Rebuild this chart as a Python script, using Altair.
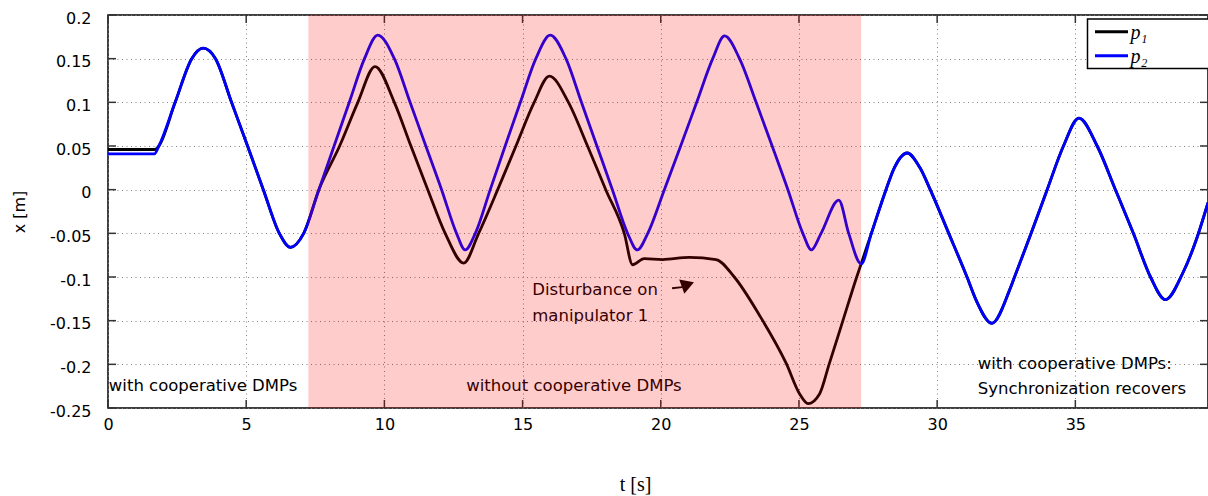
import altair as alt
import pandas as pd

# ---- trajectories of the two manipulators (x position in m over time in s) ----
# initial hold before motion starts
p1_start_t = [0.0, 1.70]
p1_start_v = [0.046, 0.046]
p2_start_t = [0.0, 1.68]
p2_start_v = [0.041, 0.041]

# first phase: coupled through cooperative DMPs (both identical)
sync1_t = [1.84, 2.43, 3.03, 3.44, 3.89, 4.47, 5.05, 5.62, 6.20, 6.60, 7.08, 7.63]
sync1_v = [0.050, 0.100, 0.150, 0.162, 0.150, 0.100, 0.050, 0.000, -0.050, -0.066, -0.050, 0.000]

# uncoupled phase
p1_free_t = [8.38, 9.04, 9.66, 10.36, 10.96, 11.57, 12.20, 12.87, 13.41, 14.10, 14.76, 15.42,
             15.97, 16.66, 17.35, 18.01, 18.68, 18.98, 19.40, 20.06, 21.03, 22.00, 22.66,
             23.57, 24.54, 25.02, 25.33, 25.75, 26.09, 26.59, 27.09]
p1_free_v = [0.050, 0.100, 0.141, 0.100, 0.050, 0.000, -0.050, -0.084, -0.050, 0.000, 0.050, 0.100,
             0.130, 0.100, 0.050, 0.000, -0.050, -0.086, -0.079, -0.080, -0.0775, -0.080, -0.100,
             -0.1437, -0.199, -0.2336, -0.245, -0.2336, -0.200, -0.150, -0.100]

p2_free_t = [8.18, 8.73, 9.28, 9.76, 10.36, 10.93, 11.50, 12.07, 12.61, 12.92, 13.29, 13.83,
             14.37, 14.92, 15.48, 16.00, 16.57, 17.13, 17.69, 18.25, 18.80, 19.15, 19.53,
             20.13, 20.72, 21.30, 21.88, 22.31, 22.85, 23.45, 24.03, 24.60, 25.14, 25.45,
             25.80, 26.44, 26.80]
p2_free_v = [0.050, 0.100, 0.150, 0.177, 0.150, 0.100, 0.050, 0.000, -0.050, -0.069, -0.050, 0.000,
             0.050, 0.100, 0.150, 0.177, 0.150, 0.100, 0.050, 0.000, -0.050, -0.069, -0.050,
             0.000, 0.050, 0.100, 0.150, 0.176, 0.150, 0.100, 0.050, 0.000, -0.050, -0.069,
             -0.050, -0.012, -0.050]

# coupling switched back on: synchronization recovers (both identical)
sync2_t = [27.25, 27.62, 28.15, 28.45, 28.91, 29.38, 29.75, 30.42, 31.08, 31.41, 31.98, 32.62,
           32.80, 33.40, 33.98, 34.57, 35.13, 35.79, 36.45, 37.10, 37.72, 38.26, 38.88,
           39.37, 39.80]
sync2_v = [-0.085, -0.050, 0.000, 0.025, 0.042, 0.025, 0.000, -0.050, -0.100, -0.1265, -0.153, -0.115,
           -0.100, -0.050, 0.000, 0.050, 0.082, 0.050, 0.000, -0.050, -0.100, -0.126, -0.096,
           -0.058, -0.015]

series_names = ["p\u2081", "p\u2082"]
series_colors = ["#000000", "#0000ff"]

# phase without cooperative DMPs
phase_start = [7.25]
phase_end = [27.25]

x_ticks = [0, 5, 10, 15, 20, 25, 30, 35]
y_ticks = [-0.25, -0.2, -0.15, -0.1, -0.05, 0, 0.05, 0.1, 0.15, 0.2]

notes_text = ["with cooperative DMPs", "without cooperative DMPs", "Disturbance on",
              "manipulator 1", "with cooperative DMPs:", "Synchronization recovers"]
notes_t = [0.03, 12.96, 15.35, 15.35, 31.47, 31.47]
notes_v = [-0.2307, -0.2307, -0.1207, -0.150, -0.2058, -0.234]

arrow_tail = (20.41, -0.113)
arrow_base = (20.77, -0.1116)
arrow_head = (20.98, -0.1085)

W, H = 1100, 393

p1 = pd.DataFrame({"t": p1_start_t + sync1_t + p1_free_t + sync2_t,
                   "v": p1_start_v + sync1_v + p1_free_v + sync2_v})
p1["series"] = series_names[0]
p2 = pd.DataFrame({"t": p2_start_t + sync1_t + p2_free_t + sync2_t,
                   "v": p2_start_v + sync1_v + p2_free_v + sync2_v})
p2["series"] = series_names[1]

label_expr = ("datum.value == 0 ? '0' : (datum.value < 0 ? '-' : '') + "
              "format(abs(datum.value), '~g')")

x_enc = alt.X("t:Q", scale=alt.Scale(domain=[0, 39.8], nice=False),
              axis=alt.Axis(values=x_ticks, title="t [s]", grid=True, ticks=False, domain=False,
                            labelPadding=8, labelFont="DejaVu Sans", labelFontSize=16,
                            labelColor="#000", labelExpr=label_expr, labelFlush=False,
                            titleFont="Liberation Serif", titleFontSize=20,
                            titleFontWeight="normal", titleColor="#000",
                            titleX=527, titleY=82, titleBaseline="alphabetic",
                            titleAlign="center"))
y_enc = alt.Y("v:Q", scale=alt.Scale(domain=[-0.25, 0.2], nice=False, zero=False),
              axis=alt.Axis(values=y_ticks, title="x [m]", grid=True, ticks=False, domain=False,
                            labelPadding=17, labelFont="DejaVu Sans", labelFontSize=16,
                            labelColor="#000", labelExpr=label_expr, labelFlush=False,
                            labelBaseline="middle", labelOffset=3,
                            titleFont="DejaVu Sans", titleFontSize=16, titleFontWeight="normal",
                            titleColor="#000", titleAngle=270, titleX=-83.5, titleY=196.5,
                            titleBaseline="alphabetic", titleAlign="center"))

color_enc = alt.Color("series:N",
                      scale=alt.Scale(domain=series_names, range=series_colors),
                      legend=None)

line1 = alt.Chart(p1).mark_line(strokeWidth=2.8, interpolate="monotone").encode(
    x=x_enc, y=y_enc, color=color_enc)
line2 = alt.Chart(p2).mark_line(strokeWidth=2.8, interpolate="monotone").encode(
    x=x_enc, y=y_enc, color=color_enc)

# inward tick marks on all four sides of the frame
xt = pd.DataFrame({"t": x_ticks})
yt = pd.DataFrame({"v": y_ticks})
tick_style = dict(color="#333", strokeWidth=1.5)
ticks = [
    alt.Chart(xt).mark_rule(**tick_style).encode(x="t:Q", y=alt.value(H), y2=alt.value(H - 8)),
    alt.Chart(xt).mark_rule(**tick_style).encode(x="t:Q", y=alt.value(0), y2=alt.value(8)),
    alt.Chart(yt).mark_rule(**tick_style).encode(y="v:Q", x=alt.value(0), x2=alt.value(8)),
    alt.Chart(yt).mark_rule(**tick_style).encode(y="v:Q", x=alt.value(W), x2=alt.value(W - 8)),
]

notes = pd.DataFrame({"label": notes_text, "t": notes_t, "v": notes_v})
text = alt.Chart(notes).mark_text(align="left", baseline="alphabetic", font="DejaVu Sans",
                                  fontSize=16.5, color="#000").encode(
    x="t:Q", y="v:Q", text="label:N")

arrow_df = pd.DataFrame({"t": [arrow_tail[0]], "v": [arrow_tail[1]],
                         "t2": [arrow_base[0]], "v2": [arrow_base[1]]})
arrow_line = alt.Chart(arrow_df).mark_rule(color="#000", strokeWidth=2).encode(
    x="t:Q", y="v:Q", x2="t2:Q", y2="v2:Q")
head_df = pd.DataFrame({"t": [arrow_head[0]], "v": [arrow_head[1]]})
arrow_tip = alt.Chart(head_df).mark_point(shape="triangle-right", size=225, filled=True,
                                          color="#000", opacity=1, angle=340).encode(
    x="t:Q", y="v:Q")

phase = pd.DataFrame({"t": phase_start, "t2": phase_end})
shade = alt.Chart(phase).mark_rect(color="#ff0000", opacity=0.2).encode(
    x="t:Q", x2="t2:Q", y=alt.value(0), y2=alt.value(H))

# boxed legend in the upper right corner
legend_layers = [
    alt.Chart(pd.DataFrame({"k": [0]})).mark_rect(fill="#fff", stroke="#000", strokeWidth=1.5).encode(
        x=alt.value(979.5), x2=alt.value(1112), y=alt.value(4), y2=alt.value(53.5))
]
for i, (name, col) in enumerate(zip(series_names, series_colors)):
    row = pd.DataFrame({"label": [name]})
    legend_layers.append(
        alt.Chart(row).mark_rule(color=col, strokeWidth=3).encode(
            x=alt.value(987), x2=alt.value(1020),
            y=alt.value(16.7 + 24 * i), y2=alt.value(16.7 + 24 * i)))
    legend_layers.append(
        alt.Chart(row).mark_text(align="left", baseline="alphabetic", font="Liberation Serif",
                                 fontStyle="italic", fontSize=20, color="#000").encode(
            x=alt.value(1022.5), y=alt.value(24 + 23.5 * i), text="label:N"))

chart = alt.layer(line1, line2, *ticks, text, arrow_line, arrow_tip, shade,
                  *legend_layers).properties(
    width=W, height=H,
    autosize=alt.AutoSizeParams(type="none"),
    padding={"left": 108, "top": 15, "right": 0, "bottom": 88},
    background="#ffffff",
).configure_view(stroke="#000", strokeWidth=1.5).configure_axis(
    gridColor="#808080", gridDash=[1, 3.5], gridWidth=1, gridOpacity=1)

chart.save("out.html", embed_options={"renderer": "svg", "actions": False})
